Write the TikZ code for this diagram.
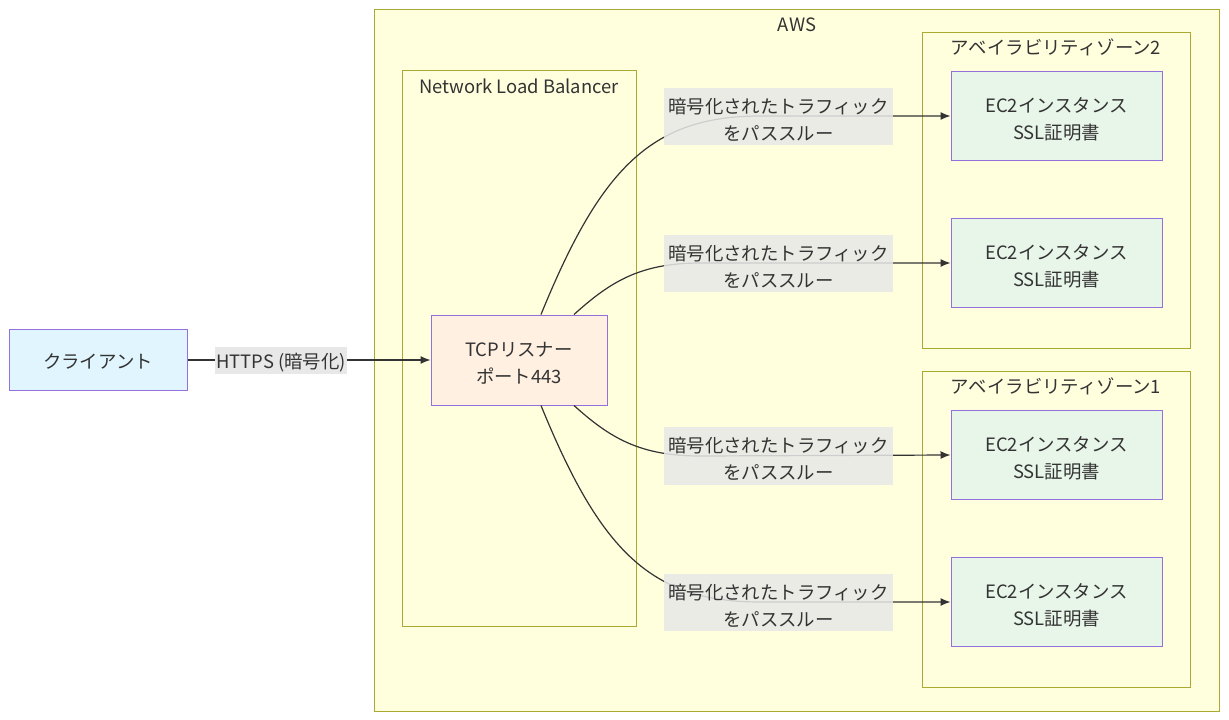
\documentclass[tikz,border=0pt]{standalone}
\usepackage{fontspec}
\setmainfont{Noto Sans CJK JP}
\usetikzlibrary{arrows.meta,positioning}
\definecolor{clusterfill}{HTML}{FFFFDE}
\definecolor{clusterline}{HTML}{AAAA33}
\definecolor{nodeline}{HTML}{9370DB}
\definecolor{clientfill}{HTML}{E1F5FE}
\definecolor{listenerfill}{HTML}{FFF0E1}
\definecolor{instfill}{HTML}{E8F5E9}
\definecolor{labelfill}{HTML}{E8E8E8}
\definecolor{textcol}{HTML}{333333}

\begin{document}
\begin{tikzpicture}[x=1pt,y=-1pt,
      every node/.style={font=\fontsize{18.4}{27}\selectfont, text=textcol,
        text height=20.6pt, text depth=4pt},
      twolines/.style={align=center, text height=52.6pt, text depth=5pt},
      cluster/.style={draw=clusterline, fill=clusterfill, line width=1pt},
      title/.style={inner sep=0pt},
      box/.style={draw=nodeline, line width=1pt, inner sep=0pt},
      inst/.style={box, twolines, fill=instfill, minimum width=211pt, minimum height=89pt},
      elabel/.style={twolines, fill=labelfill, fill opacity=0.85, text opacity=1,
        inner sep=0pt, minimum width=229pt, minimum height=53pt},
      link/.style={-{Latex[length=10pt,width=8pt]}, line width=1.2pt, draw=textcol}
    ]
    \useasboundingbox (0,0) rectangle (1229,720);

    % clusters
    \draw[cluster] (374,9) rectangle (1219,711);
    \node[title] (aws) at (797,22.7) {AWS};
    \draw[cluster] (402,70) rectangle (636,626);
    \node[title] (nlb) at (519,84.7) {Network Load Balancer};
    \draw[cluster] (922,32) rectangle (1190,348);
    \node[title] (az2) at (1056,45.7) {アベイラビリティゾーン2};
    \draw[cluster] (922,371) rectangle (1190,687);
    \node[title] (az1) at (1056,384.7) {アベイラビリティゾーン1};

    % nodes
    \node[box, fill=clientfill, minimum width=178pt, minimum height=61pt] (client) at (98,360) {クライアント};
    \node[box, twolines, fill=listenerfill, minimum width=176pt, minimum height=90pt] (tcp) at (519,360) {TCPリスナー\\ポート443};
    \node[inst] (ec1) at (1056.5,116) {EC2インスタンス\\SSL証明書};
    \node[inst] (ec2) at (1056.5,263) {EC2インスタンス\\SSL証明書};
    \node[inst] (ec3) at (1056.5,455) {EC2インスタンス\\SSL証明書};
    \node[inst] (ec4) at (1056.5,602) {EC2インスタンス\\SSL証明書};

    % connectors
    \draw[link] (client) -- (tcp)
      node[pos=0.385, fill=labelfill, inner sep=1pt, minimum height=27pt] (https) {HTTPS (暗号化)};
    \draw[link] ([xshift=22pt]tcp.north) .. controls (600,170) and (650,116) .. (760,116) -- (ec1.west);
    \draw[link] ([xshift=55pt]tcp.north) .. controls (610,282) and (640,263) .. (700,263) -- (ec2.west);
    \draw[link] ([xshift=55pt]tcp.south) .. controls (610,438) and (640,456) .. (700,456) -- (ec3.west);
    \draw[link] ([xshift=22pt]tcp.south) .. controls (600,550) and (650,602) .. (760,602) -- (ec4.west);

    \node[elabel] (l1) at (778.5,116.5) {暗号化されたトラフィック\\をパススルー};
    \node[elabel] (l2) at (778.5,263.5) {暗号化されたトラフィック\\をパススルー};
    \node[elabel] (l3) at (778.5,456) {暗号化されたトラフィック\\をパススルー};
    \node[elabel] (l4) at (778.5,602.5) {暗号化されたトラフィック\\をパススルー};
  \end{tikzpicture}
\end{document}
